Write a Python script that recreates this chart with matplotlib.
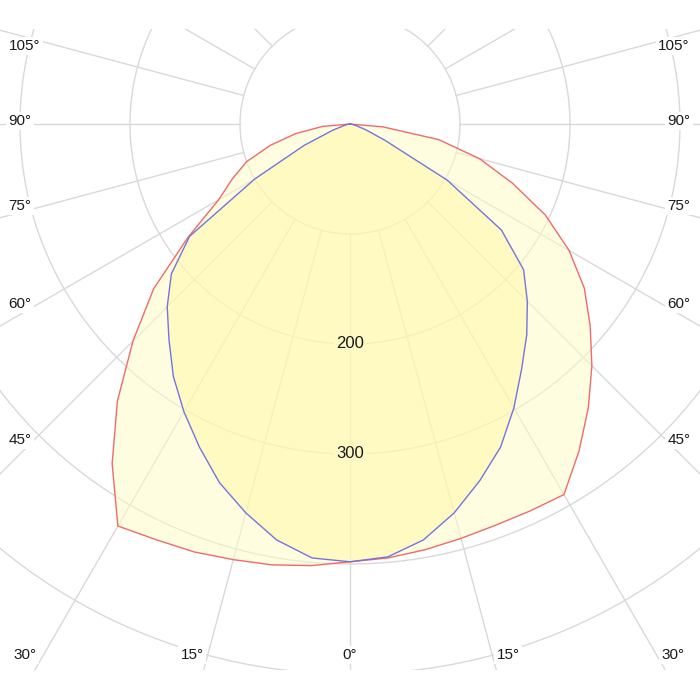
import numpy as np
import matplotlib
matplotlib.use("Agg")
import matplotlib.pyplot as plt
from matplotlib.patches import Rectangle

plt.rcParams['font.family'] = ['Liberation Sans', 'DejaVu Sans']

# gamma angles (deg), negative = left half of the diagram
gamma = np.arange(-90, 91, 5)

# luminous intensity (cd) for the two C-planes
c0_c180 = [0, 25, 50, 75, 100, 118, 138, 180, 233, 279, 329, 377, 422,
           417, 414, 410, 407, 403, 398, 396, 393, 390, 388, 388, 389,
           363, 337, 311, 285, 260, 230, 196, 157, 122, 82, 30, 0]
c90_c270 = [0, 1, 3, 6, 17, 46, 100, 178, 212, 235, 256, 280, 302,
            324, 347, 366, 384, 396, 398, 395, 384, 366, 345, 324, 298,
            272, 250, 228, 206, 168, 102, 35, 15, 6, 2, 1, 0]

rings = [100, 200, 300, 400, 500]
ring_labels = [200, 300]
spokes = np.arange(-180, 181, 15)
angle_labels = ['105°', '90°', '75°', '60°', '45°', '30°', '15°', '0°',
                '15°', '30°', '45°', '60°', '75°', '90°', '105°']

# pixel spots for the angle labels (700x700 canvas)
label_px = [(25, 46), (20, 121), (20, 206), (20, 304), (20, 440), (25, 655),
            (192, 655), (350, 655), (508, 655), (673, 655), (679, 440),
            (679, 304), (679, 206), (679, 121), (674, 46)]

scale = 1.1      # pixels per cd
cx, cy = 350, 124  # pole position in pixels

fig = plt.figure(figsize=(7, 7), dpi=100)
ax = fig.add_axes([0, 0, 1, 1])
ax.set_xlim(-cx / scale, (700 - cx) / scale)
ax.set_ylim(-(700 - cy) / scale, cy / scale)
ax.axis('off')

# drawing area the grid is cut to
box = Rectangle((-cx / scale, -(670 - cy) / scale), 700 / scale, (670 - 29) / scale,
                transform=ax.transData, facecolor='none', edgecolor='none')
ax.add_patch(box)

grid_col = '#d9d9d9'
t = np.linspace(0, 2 * np.pi, 720)
for r in rings:
    ln, = ax.plot(r * np.cos(t), r * np.sin(t), color=grid_col, lw=1, zorder=1)
    ln.set_clip_path(box)
for a in spokes:
    ar = np.radians(a)
    ln, = ax.plot([100 * np.sin(ar), 800 * np.sin(ar)],
                  [-100 * np.cos(ar), -800 * np.cos(ar)],
                  color=grid_col, lw=1, zorder=1)
    ln.set_clip_path(box)

g = np.radians(gamma)
r1 = np.array(c0_c180)
r2 = np.array(c90_c270)
x1, y1 = r1 * np.sin(g), -r1 * np.cos(g)
x2, y2 = r2 * np.sin(g), -r2 * np.cos(g)

ax.fill(x1, y1, color='#fffdc3', alpha=0.5, lw=0, zorder=2)
ax.fill(x2, y2, color='#fff6a5', alpha=0.5, lw=0, zorder=2)
ax.plot(x1, y1, color='#ef6a6a', lw=1, zorder=3)
ax.plot(x2, y2, color='#7474e0', lw=1, zorder=3)

for v in ring_labels:
    ax.text(0, -v, str(v), ha='center', va='center', fontsize=12, color='#1a1a1a',
            zorder=4, bbox=dict(boxstyle='square,pad=0.1', fc='#fffac3', ec='none'))

for txt, (px, py) in zip(angle_labels, label_px):
    ax.text(px / 700, 1 - py / 700, txt, transform=ax.transAxes, ha='center',
            va='center', fontsize=11, color='#1a1a1a', zorder=4,
            bbox=dict(boxstyle='square,pad=0.15', fc='white', ec='none'))

plt.savefig('out.png', dpi=100)
